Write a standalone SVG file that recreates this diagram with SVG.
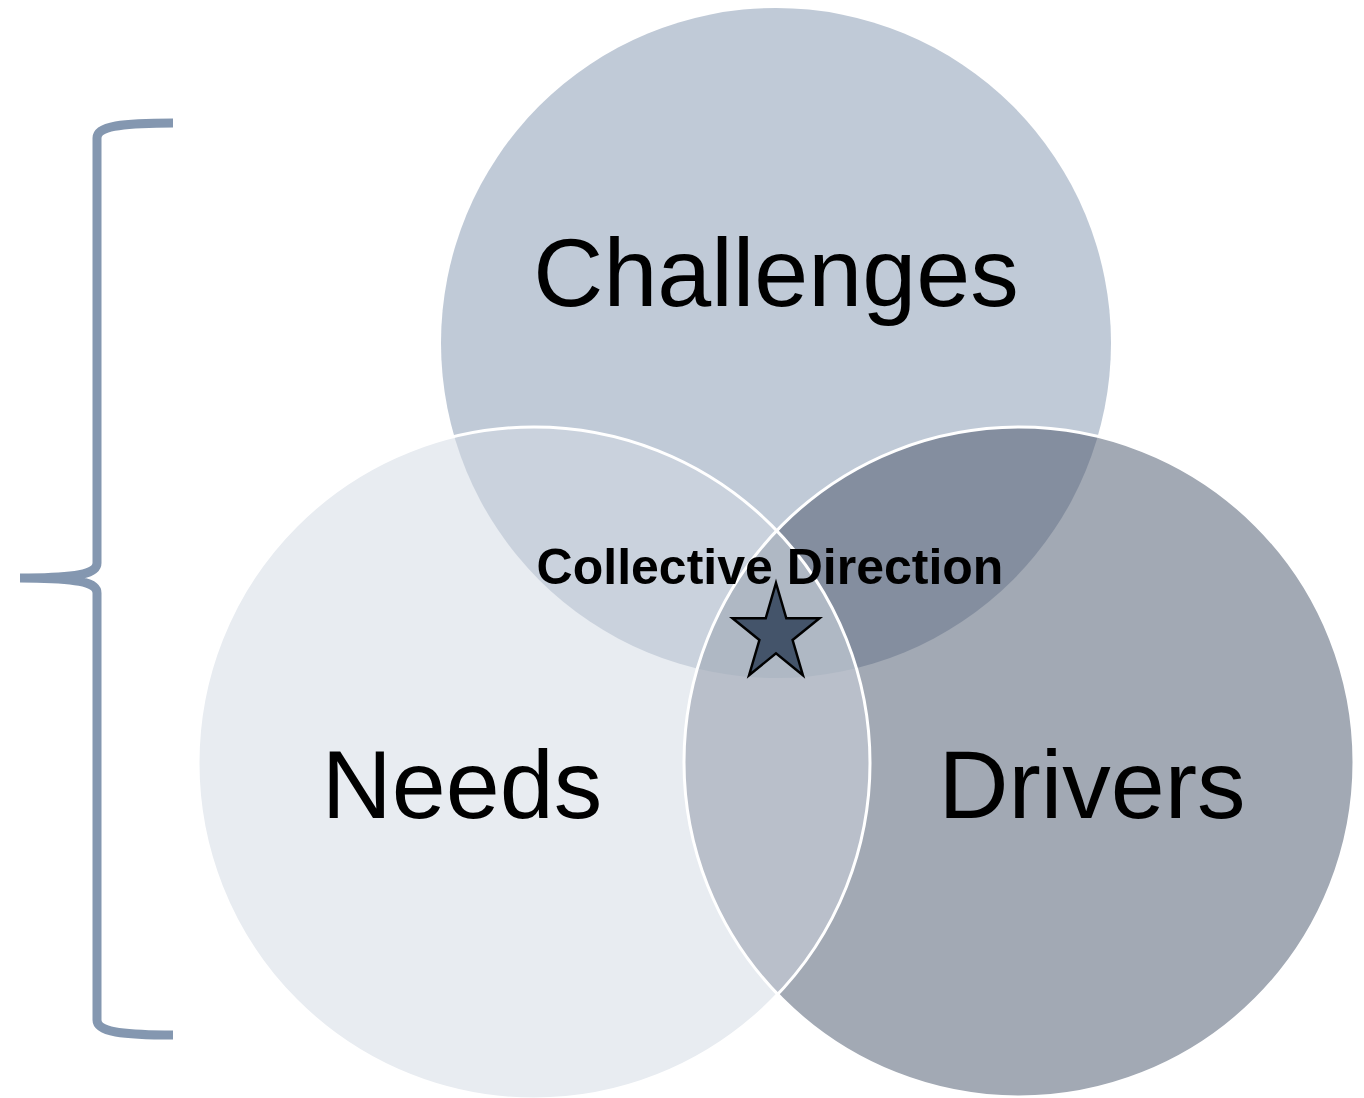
<svg xmlns="http://www.w3.org/2000/svg" width="1364" height="1098" viewBox="0 0 1364 1098">
  <style>
    .lbl { font-family: "Liberation Sans", Arial, sans-serif; font-size: 97px; fill: #000; text-anchor: middle; }
    .ctr { font-family: "Liberation Sans", Arial, sans-serif; font-size: 50px; font-weight: bold; fill: #000; text-anchor: middle; }
    .ring { fill: none; stroke: #FFFFFF; stroke-width: 3; }
  </style>
  <defs>
    <circle id="cTop" cx="776" cy="343" r="335"/>
    <circle id="cLeft" cx="534" cy="763" r="336"/>
    <circle id="cRight" cx="1019" cy="762" r="335"/>
    <clipPath id="clipTop"><use href="#cTop"/></clipPath>
    <clipPath id="clipLeft"><use href="#cLeft"/></clipPath>
    <clipPath id="clipRight"><use href="#cRight"/></clipPath>
  </defs>
  <rect width="1364" height="1098" fill="#FFFFFF"/>

  <g id="brace">
    <path d="M173,123 C122,123 97,126 97,138 L97,563 C97,573 82,578 20,578 C82,578 97,583 97,593 L97,1020 C97,1032 122,1035 173,1035" fill="none" stroke="#8497B0" stroke-width="9"/>
  </g>

  <g id="challenges">
    <use href="#cTop" fill="#C0CAD7"/>
  </g>
  <g id="needs">
    <use href="#cLeft" fill="#E8ECF1"/>
    <use href="#cLeft" fill="#CAD2DD" clip-path="url(#clipTop)"/>
  </g>
  <g id="drivers">
    <use href="#cRight" fill="#A2A9B4"/>
    <use href="#cRight" fill="#848E9F" clip-path="url(#clipTop)"/>
    <use href="#cRight" fill="#B9BFCA" clip-path="url(#clipLeft)"/>
    <g clip-path="url(#clipLeft)">
      <use href="#cRight" fill="#AFB8C4" clip-path="url(#clipTop)"/>
    </g>
  </g>
  <g id="outlines">
    <use href="#cLeft" class="ring"/>
    <use href="#cRight" class="ring"/>
  </g>

  <g id="labels">
    <text class="lbl" x="776" y="306">Challenges</text>
    <text class="lbl" x="462" y="818">Needs</text>
    <text class="lbl" x="1092" y="818">Drivers</text>
  </g>

  <g id="collective-direction">
    <text class="ctr" x="770" y="584">Collective Direction</text>
    <polygon points="776,583 786.3,618.3 819.5,618.3 792.6,640 802.9,675.2 776,653.4 749.1,675.2 759.4,640 732.5,618.3 765.7,618.3" fill="#44546A" stroke="#000000" stroke-width="2.5" stroke-linejoin="miter"/>
  </g>
</svg>
